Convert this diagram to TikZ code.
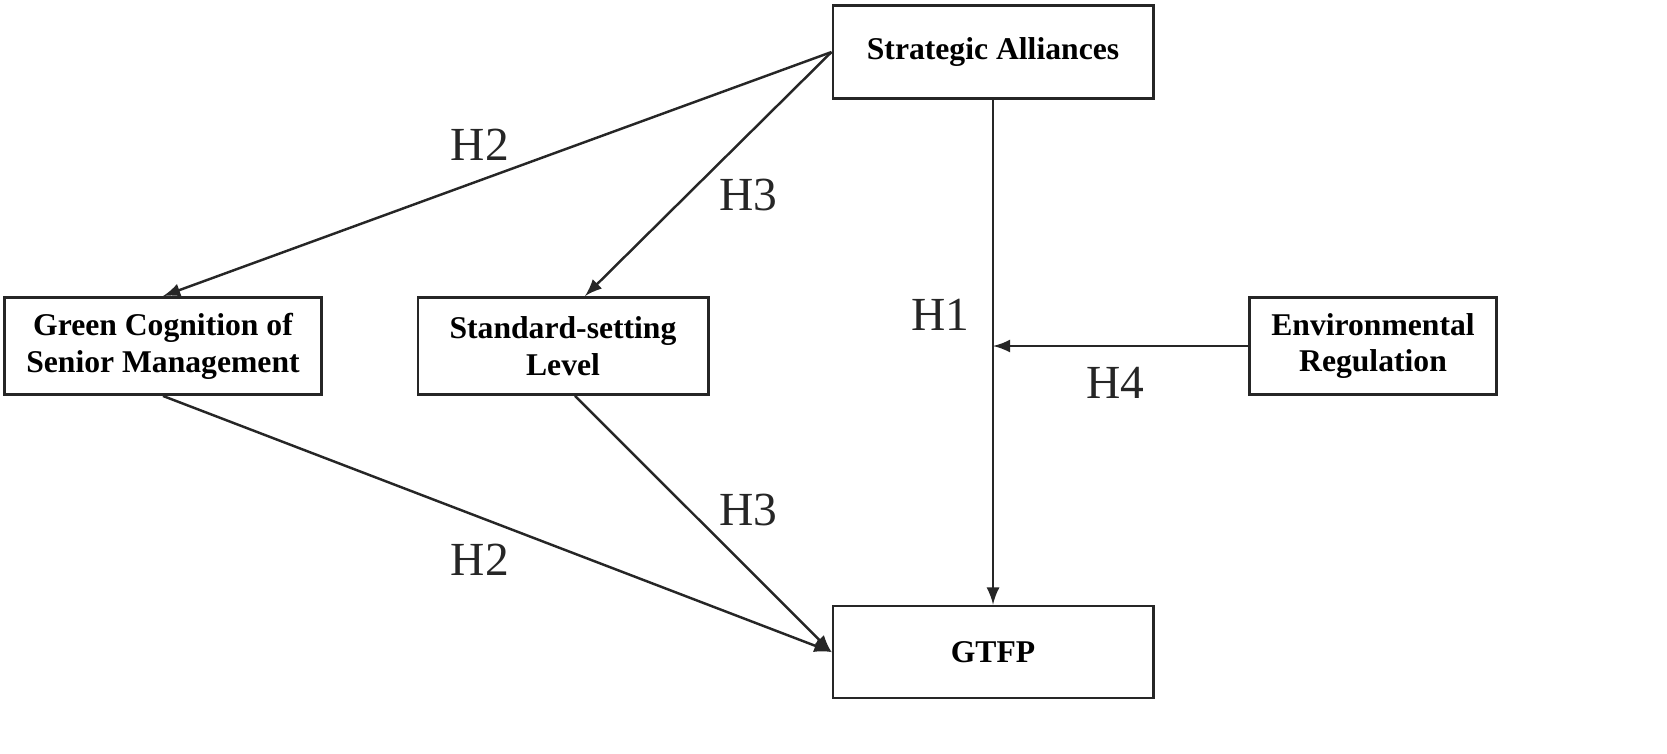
\documentclass[tikz,border=0pt]{standalone}
\usepackage{fontspec}
\setmainfont{Liberation Serif}
\usetikzlibrary{calc}
\tikzset{
  var/.style={draw=black!85,line width=0.8pt,align=center,font=\fontsize{9}{10.5}\selectfont\bfseries,inner sep=0pt},
  path/.style={draw=black!85,line width=0.7pt,-latex},
  hyp/.style={font=\fontsize{13.5}{15}\selectfont,text=black!85}
}
\begin{document}
\begin{tikzpicture}[x=0.01cm,y=-0.01cm]
\useasboundingbox (0,0) rectangle (1667,753);

% variables
\node[var,minimum width=3.2cm,minimum height=0.93cm] (sa) at (993,52) {Strategic Alliances};
\node[var,minimum width=3.2cm,minimum height=0.92cm] (gtfp) at (993,652) {GTFP};
\node[var,minimum width=3.17cm,minimum height=0.97cm] (gc) at (163,346) {Green Cognition of\\Senior Management};
\node[var,minimum width=2.9cm,minimum height=0.97cm] (ssl) at (563,346) {Standard-setting\\Level};
\node[var,minimum width=2.47cm,minimum height=0.97cm] (er) at (1373,346) {Environmental\\Regulation};
\coordinate (mod) at (sa.south |- er.west);

% paths
\draw[path] (sa.west) -- (gc.north);
\draw[path] (sa.west) -- ($(ssl.north)+(22,0)$);
\draw[path] (sa.south) -- (gtfp.north);
\draw[path] (er.west) -- (mod);
\draw[path] (gc.south) -- (gtfp.west);
\draw[path] ($(ssl.south)+(12,0)$) -- (gtfp.west);

% labels
\node[hyp] (h2a) at (480,145) {H2};
\node[hyp] (h3a) at (748,195) {H3};
\node[hyp] (h1) at (940,315) {H1};
\node[hyp] (h4) at (1115,383) {H4};
\node[hyp] (h3b) at (748,510) {H3};
\node[hyp] (h2b) at (480,560) {H2};
\end{tikzpicture}
\end{document}
